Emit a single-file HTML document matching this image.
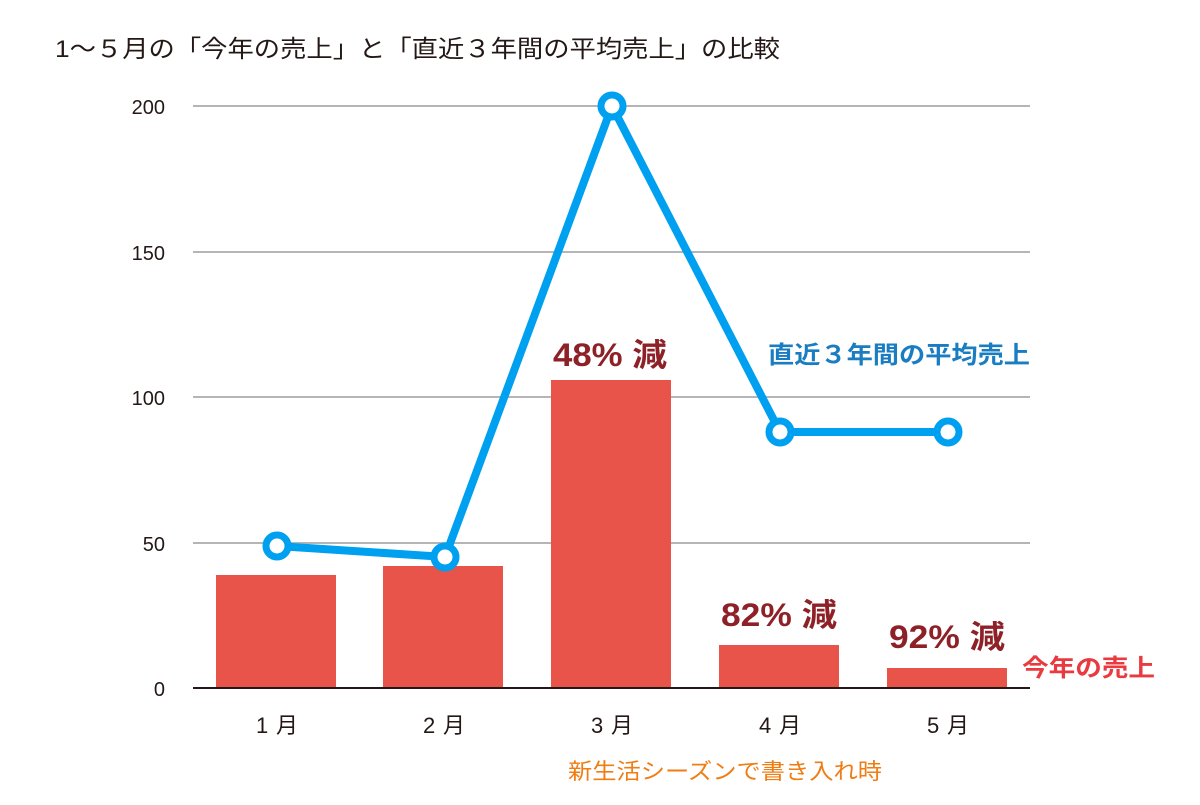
<!DOCTYPE html>
<html><head><meta charset="utf-8"><style>
html,body{margin:0;padding:0;background:#fff;}
svg text{font-family:"Liberation Sans","Noto Sans CJK JP",sans-serif;}
</style></head><body>
<svg width="1200" height="800" viewBox="0 0 1200 800" xmlns="http://www.w3.org/2000/svg">
<rect width="1200" height="800" fill="#fff"/>
<text x="55" y="57" font-size="24" fill="#231815" textLength="725" lengthAdjust="spacingAndGlyphs">1～５月の「今年の売上」と「直近３年間の平均売上」の比較</text>
<g stroke="#b5b5b5" stroke-width="2">
<line x1="193" y1="106" x2="1030" y2="106"/>
<line x1="193" y1="252" x2="1030" y2="252"/>
<line x1="193" y1="397" x2="1030" y2="397"/>
<line x1="193" y1="543" x2="1030" y2="543"/>
</g>
<g font-size="20" fill="#231815" text-anchor="end">
<text x="165" y="114">200</text>
<text x="165" y="260">150</text>
<text x="165" y="405">100</text>
<text x="165" y="551">50</text>
<text x="165" y="696">0</text>
</g>
<g fill="#e8534a">
<rect x="216" y="575" width="120" height="113"/>
<rect x="383" y="566" width="120" height="122"/>
<rect x="551" y="380" width="120" height="308"/>
<rect x="719" y="645" width="120" height="43"/>
<rect x="887" y="668" width="120" height="20"/>
</g>
<line x1="193" y1="688" x2="1030" y2="688" stroke="#231815" stroke-width="2"/>
<g font-size="22" fill="#231815">
<text x="256" y="733" textLength="42" lengthAdjust="spacing">1月</text>
<text x="423" y="733" textLength="42" lengthAdjust="spacing">2月</text>
<text x="591" y="733" textLength="42" lengthAdjust="spacing">3月</text>
<text x="759" y="733" textLength="42" lengthAdjust="spacing">4月</text>
<text x="927" y="733" textLength="42" lengthAdjust="spacing">5月</text>
</g>
<polyline points="277,546 445,557 612,106 780,432 948,432" fill="none" stroke="#00a0f0" stroke-width="8" stroke-linejoin="miter"/>
<g fill="#fff" stroke="#00a0f0" stroke-width="7">
<circle cx="277" cy="546" r="11"/>
<circle cx="445" cy="557" r="11"/>
<circle cx="612" cy="106" r="11"/>
<circle cx="780" cy="432" r="11"/>
<circle cx="948" cy="432" r="11"/>
</g>
<g font-size="32" font-weight="bold" fill="#8e2127">
<text x="553" y="366" textLength="114" lengthAdjust="spacingAndGlyphs">48% 減</text>
<text x="721" y="626" textLength="116" lengthAdjust="spacingAndGlyphs">82% 減</text>
<text x="889" y="648" textLength="116" lengthAdjust="spacingAndGlyphs">92% 減</text>
</g>
<text x="768" y="363" font-size="24" font-weight="bold" fill="#1a7dc2" textLength="262" lengthAdjust="spacingAndGlyphs">直近３年間の平均売上</text>
<text x="1022" y="676" font-size="24" font-weight="bold" fill="#e83a3f" textLength="133" lengthAdjust="spacingAndGlyphs">今年の売上</text>
<text x="568" y="779" font-size="22" fill="#ef7d14" textLength="314" lengthAdjust="spacingAndGlyphs">新生活シーズンで書き入れ時</text>
</svg>
</body></html>
